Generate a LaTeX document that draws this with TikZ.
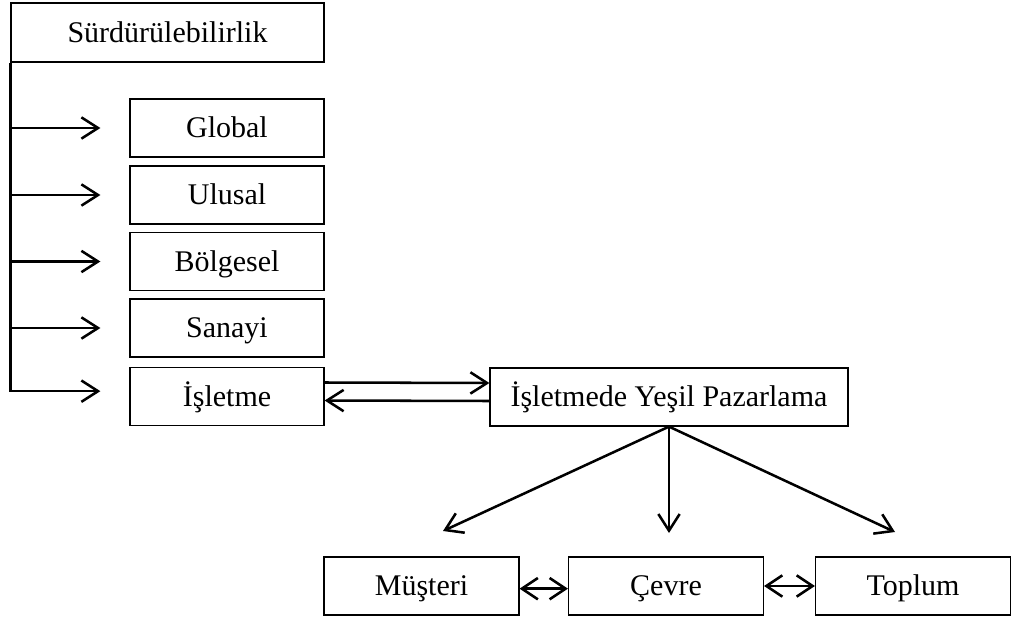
\documentclass[tikz,border=0pt]{standalone}
\usepackage{fontspec}
\setmainfont{Liberation Serif}
\usetikzlibrary{arrows.meta}
\begin{document}
\begin{tikzpicture}[
x=0.75pt, y=-0.75pt,
box/.style={draw, line width=0.9pt, inner sep=0pt, minimum height=43.5pt, minimum width=145.5pt, text height=17pt, text depth=2.1pt, font=\fontsize{22.5}{26}\selectfont},
arr/.style={line width=1.9pt, -{Straight Barb[length=12.5pt, width=16pt, line width=1.9pt]}},
biarr/.style={line width=1.9pt, {Straight Barb[length=12pt, width=16pt, line width=1.9pt]}-{Straight Barb[length=12pt, width=16pt, line width=1.9pt]}}
]
\useasboundingbox (0,0) rectangle (1014,621);
\node[box, minimum width=234.75pt, minimum height=44.25pt] (sud) at (167.5,32.5) {Sürdürülebilirlik};
\node[box] (glob) at (227,128) {Global};
\node[box] (ulus) at (227,195) {Ulusal};
\node[box] (bolg) at (227,261.5) {Bölgesel};
\node[box] (san) at (227,328) {Sanayi};
\node[box] (isl) at (227,396.5) {İşletme};
\node[box, minimum width=268.5pt] (iyp) at (669,397) {İşletmede Yeşil Pazarlama};
\node[box, minimum width=146.25pt] (mus) at (421.5,586) {Müşteri};
\node[box, minimum width=146.25pt] (cev) at (666,586) {Çevre};
\node[box, minimum width=146.25pt] (top) at (913,586) {Toplum};
% free ends of the arrows below the green marketing box
\coordinate (mustip) at (443,531);
\coordinate (cevtip) at (669,533);
\coordinate (toptip) at (895,532);
% levels
\foreach \b in {glob,ulus,bolg,san}
	\draw[arr] (sud.south west |- \b.west) -- ([xshift=-21.75pt]\b.west);
\draw[arr] (sud.south west) |- ([xshift=-21.75pt, yshift=4pt]isl.west);
% firm <-> green marketing
\draw[arr] ([yshift=10.5pt]isl.east) -- ([yshift=10.5pt]iyp.west);
\draw[arr] ([yshift=-3pt]iyp.west) -- ([yshift=-3pt]isl.east);
\draw[arr] (iyp.south) -- (mustip);
\draw[arr] (iyp.south) -- (cevtip);
\draw[arr] (iyp.south) -- (toptip);
\draw[biarr] ([yshift=-2pt]mus.east) -- ([yshift=-2pt]cev.west);
\draw[biarr] (cev.east) -- (top.west);
\end{tikzpicture}
\end{document}
